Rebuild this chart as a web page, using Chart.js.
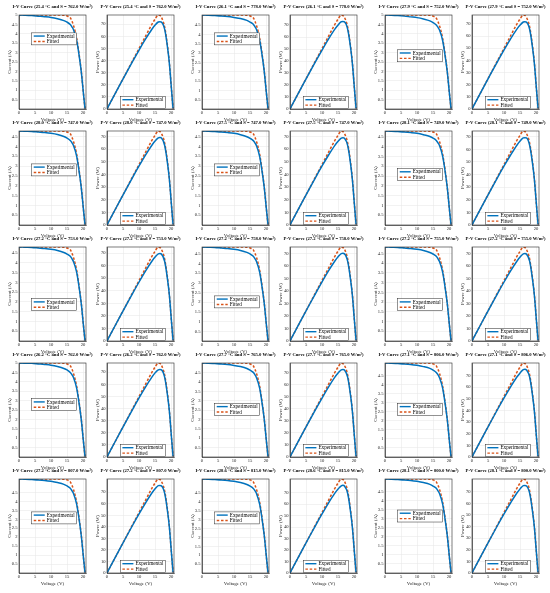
<!DOCTYPE html>
<html>
<head>
<meta charset="utf-8">
<script src="https://cdn.jsdelivr.net/npm/chart.js@4.4.1/dist/chart.umd.min.js"></script>
<style>
  html, body { margin: 0; padding: 0; background: #fff; }
  #wrap { position: relative; width: 550px; height: 593px; overflow: hidden; background: #fff; }
  canvas { position: absolute; }
</style>
</head>
<body>
<div id="wrap"></div>
<script>
// ---------------- DATA ----------------
const voltage = [0, 2, 4, 6, 8, 10, 12, 14, 15, 16, 16.5, 17, 18, 19, 19.5, 20, 20.3, 20.6];
const temperatures = [25.4, 26.1, 27.9, 28.0, 27.5, 28.1, 27.2, 27.2, 27.2, 26.2, 27.7, 27.1, 27.2, 28.6, 28.1];
const irradiances = [762.0, 778.0, 752.0, 747.0, 747.0, 749.0, 753.0, 758.0, 755.0, 762.0, 765.0, 806.0, 807.0, 815.0, 800.0];
const seriesNames = ['Experimental', 'Fitted'];
const xTickValues = [0, 5, 10, 15, 20];

const expCurrent = [
  [5.00, 4.99, 4.97, 4.94, 4.91, 4.87, 4.80, 4.70, 4.62, 4.49, 4.37, 4.22, 3.65, 2.55, 1.87, 1.00, 0.50, 0.02],
  [5.05, 5.04, 5.02, 5.00, 4.97, 4.92, 4.86, 4.76, 4.67, 4.55, 4.42, 4.27, 3.69, 2.58, 1.89, 1.01, 0.51, 0.02],
  [5.00, 4.99, 4.97, 4.94, 4.90, 4.86, 4.79, 4.69, 4.60, 4.47, 4.35, 4.20, 3.63, 2.53, 1.86, 0.99, 0.50, 0.02],
  [4.78, 4.77, 4.76, 4.73, 4.70, 4.66, 4.60, 4.50, 4.42, 4.30, 4.19, 4.04, 3.49, 2.44, 1.79, 0.96, 0.48, 0.02],
  [4.78, 4.77, 4.75, 4.73, 4.70, 4.66, 4.59, 4.49, 4.41, 4.29, 4.18, 4.03, 3.48, 2.43, 1.78, 0.95, 0.48, 0.02],
  [4.80, 4.79, 4.77, 4.75, 4.72, 4.68, 4.61, 4.52, 4.44, 4.32, 4.20, 4.06, 3.50, 2.45, 1.80, 0.96, 0.48, 0.02],
  [4.82, 4.81, 4.80, 4.77, 4.74, 4.70, 4.64, 4.54, 4.46, 4.34, 4.22, 4.07, 3.52, 2.46, 1.81, 0.96, 0.48, 0.02],
  [4.85, 4.84, 4.83, 4.80, 4.77, 4.73, 4.67, 4.57, 4.49, 4.37, 4.25, 4.10, 3.54, 2.47, 1.82, 0.97, 0.49, 0.02],
  [4.83, 4.82, 4.81, 4.78, 4.75, 4.71, 4.65, 4.55, 4.47, 4.35, 4.23, 4.08, 3.53, 2.46, 1.81, 0.97, 0.48, 0.02],
  [5.00, 4.99, 4.98, 4.95, 4.92, 4.88, 4.81, 4.71, 4.63, 4.50, 4.38, 4.23, 3.65, 2.55, 1.88, 1.00, 0.50, 0.02],
  [5.01, 5.00, 4.98, 4.96, 4.93, 4.88, 4.82, 4.72, 4.63, 4.51, 4.39, 4.23, 3.66, 2.56, 1.88, 1.00, 0.50, 0.02],
  [5.20, 5.19, 5.17, 5.15, 5.12, 5.07, 5.00, 4.90, 4.81, 4.68, 4.56, 4.39, 3.80, 2.65, 1.95, 1.04, 0.52, 0.02],
  [5.25, 5.24, 5.22, 5.20, 5.17, 5.12, 5.05, 4.95, 4.86, 4.73, 4.60, 4.44, 3.83, 2.68, 1.97, 1.05, 0.53, 0.02],
  [5.28, 5.27, 5.25, 5.23, 5.20, 5.15, 5.08, 4.97, 4.88, 4.75, 4.63, 4.46, 3.85, 2.69, 1.98, 1.06, 0.53, 0.02],
  [5.22, 5.21, 5.19, 5.17, 5.14, 5.09, 5.02, 4.92, 4.83, 4.70, 4.57, 4.41, 3.81, 2.66, 1.96, 1.04, 0.52, 0.02]
];

const fitCurrent = [
  [5.00, 5.00, 5.00, 5.00, 5.00, 5.00, 5.00, 4.99, 4.95, 4.85, 4.68, 4.45, 3.75, 2.60, 1.90, 1.00, 0.50, 0.02],
  [5.05, 5.05, 5.05, 5.05, 5.05, 5.05, 5.05, 5.04, 5.00, 4.90, 4.72, 4.49, 3.79, 2.63, 1.92, 1.01, 0.51, 0.02],
  [5.00, 5.00, 5.00, 5.00, 5.00, 5.00, 5.00, 4.99, 4.94, 4.83, 4.66, 4.43, 3.74, 2.59, 1.89, 0.99, 0.50, 0.02],
  [4.78, 4.78, 4.78, 4.78, 4.78, 4.78, 4.78, 4.77, 4.73, 4.64, 4.47, 4.25, 3.59, 2.49, 1.82, 0.96, 0.48, 0.02],
  [4.78, 4.78, 4.78, 4.78, 4.78, 4.78, 4.78, 4.77, 4.73, 4.64, 4.47, 4.25, 3.59, 2.49, 1.82, 0.96, 0.48, 0.02],
  [4.80, 4.80, 4.80, 4.80, 4.80, 4.80, 4.80, 4.79, 4.75, 4.66, 4.49, 4.27, 3.60, 2.50, 1.82, 0.96, 0.48, 0.02],
  [4.82, 4.82, 4.82, 4.82, 4.82, 4.82, 4.82, 4.81, 4.77, 4.68, 4.51, 4.29, 3.62, 2.51, 1.83, 0.96, 0.48, 0.02],
  [4.85, 4.85, 4.85, 4.85, 4.85, 4.85, 4.85, 4.84, 4.80, 4.70, 4.53, 4.32, 3.64, 2.52, 1.84, 0.97, 0.49, 0.02],
  [4.83, 4.83, 4.83, 4.83, 4.83, 4.83, 4.83, 4.82, 4.78, 4.69, 4.52, 4.30, 3.62, 2.51, 1.84, 0.97, 0.48, 0.02],
  [5.00, 5.00, 5.00, 5.00, 5.00, 5.00, 5.00, 4.99, 4.95, 4.85, 4.68, 4.45, 3.75, 2.60, 1.90, 1.00, 0.50, 0.02],
  [5.01, 5.01, 5.01, 5.01, 5.01, 5.01, 5.01, 5.00, 4.96, 4.86, 4.68, 4.46, 3.76, 2.61, 1.90, 1.00, 0.50, 0.02],
  [5.20, 5.20, 5.20, 5.20, 5.20, 5.20, 5.20, 5.19, 5.15, 5.04, 4.86, 4.63, 3.90, 2.70, 1.98, 1.04, 0.52, 0.02],
  [5.25, 5.25, 5.25, 5.25, 5.25, 5.25, 5.25, 5.24, 5.20, 5.09, 4.91, 4.67, 3.94, 2.73, 2.00, 1.05, 0.53, 0.02],
  [5.28, 5.28, 5.28, 5.28, 5.28, 5.28, 5.28, 5.27, 5.23, 5.12, 4.94, 4.70, 3.96, 2.75, 2.01, 1.06, 0.53, 0.02],
  [5.22, 5.22, 5.22, 5.22, 5.22, 5.22, 5.22, 5.21, 5.17, 5.06, 4.88, 4.65, 3.92, 2.71, 1.98, 1.04, 0.52, 0.02]
];

// legend vertical placement (fraction of plot height) for the I-V panels
const ivLegendTop = [0.19, 0.19, 0.37, 0.35, 0.35, 0.40, 0.55, 0.52, 0.55, 0.38, 0.43, 0.43, 0.35, 0.35, 0.33];

// ---------------- STYLE ----------------
const BLUE = '#0072BD', ORANGE = '#D95319', INK = '#262626';
const FONT = 'Liberation Serif';
const PLOT_H = 94, PLOT_W = 67;
const PAD_L = 12, PAD_T = 14, PAD_R = 14, PAD_B = 14;
const TITLE_W = 80;

function fmt(v) { return String(Math.round(v * 100) / 100); }
function onStep(v, step) { const q = v / step; return Math.abs(q - Math.round(q)) < 1e-6; }

const framePlugin = {
  id: 'frame',
  afterDraw(chart) {
    const { ctx, chartArea: a } = chart;
    const o = chart.options.plugins.frame;
    ctx.save();
    ctx.strokeStyle = INK; ctx.lineWidth = 0.6;
    ctx.strokeRect(a.left, a.top, a.right - a.left, a.bottom - a.top);
    // title, sized to the reference width
    ctx.font = 'bold 10px "' + FONT + '"';
    const w10 = ctx.measureText(o.title).width;
    const fs = Math.min(5.5, 10 * TITLE_W / w10);
    ctx.font = 'bold ' + fs.toFixed(2) + 'px "' + FONT + '"';
    ctx.fillStyle = '#000';
    ctx.textAlign = 'center'; ctx.textBaseline = 'middle';
    ctx.fillText(o.title, (a.left + a.right) / 2, a.top - 8.5);
    // legend
    ctx.font = '5.2px "' + FONT + '"';
    ctx.textAlign = 'left';
    const tw = Math.max(ctx.measureText(seriesNames[0]).width, ctx.measureText(seriesNames[1]).width);
    const bw = 2 + 11 + 2 + tw + 2, bh = 12;
    const w = a.right - a.left, h = a.bottom - a.top;
    const bx = a.left + o.legendX * w;
    const by = o.legendBottom ? a.bottom - bh - 0.5 : a.top + o.legendY * h;
    ctx.fillStyle = '#fff';
    ctx.fillRect(bx, by, bw, bh);
    ctx.strokeStyle = INK; ctx.lineWidth = 0.5;
    ctx.strokeRect(bx, by, bw, bh);
    const rows = [by + 3.2, by + 8.6];
    [BLUE, ORANGE].forEach((c, k) => {
      ctx.beginPath();
      ctx.strokeStyle = c; ctx.lineWidth = 1.4;
      ctx.setLineDash(k === 1 ? [2.5, 1.8] : []);
      ctx.moveTo(bx + 2, rows[k]); ctx.lineTo(bx + 13, rows[k]);
      ctx.stroke();
      ctx.setLineDash([]);
      ctx.fillStyle = '#000';
      ctx.fillText(seriesNames[k], bx + 15, rows[k] + 0.3);
    });
    ctx.restore();
  }
};

function makeChart(i, kind) {
  const r = Math.floor(i / 3), p = i % 3;
  const plotLeft = kind === 'IV' ? 19 + p * 183 : 107 + p * 182.5;
  const plotTop = 14.5 + r * 116.2;
  const cv = document.createElement('canvas');
  const W = PAD_L + PLOT_W + PAD_R, H = PAD_T + PLOT_H + PAD_B;
  cv.width = W; cv.height = H;
  cv.style.width = W + 'px'; cv.style.height = H + 'px';
  cv.style.left = Math.round(plotLeft - PAD_L) + 'px';
  cv.style.top = Math.round(plotTop - PAD_T) + 'px';
  document.getElementById('wrap').appendChild(cv);

  const ie = expCurrent[i], ifit = fitCurrent[i];
  let dExp, dFit, yMax, yStep, yTitle, title;
  const cond = '(' + temperatures[i].toFixed(1) + ' \u00B0C and S = ' + irradiances[i].toFixed(1) + ' W/m\u00B2)';
  if (kind === 'IV') {
    dExp = voltage.map((v, k) => ({ x: v, y: ie[k] }));
    dFit = voltage.map((v, k) => ({ x: v, y: ifit[k] }));
    yMax = Math.max(...ie, ...ifit);
    yStep = 0.5; yTitle = 'Current (A)';
    title = 'I-V Curve ' + cond;
  } else {
    dExp = voltage.map((v, k) => ({ x: v, y: v * ie[k] }));
    dFit = voltage.map((v, k) => ({ x: v, y: v * ifit[k] }));
    yMax = Math.max(...dExp.map(d => d.y), ...dFit.map(d => d.y));
    yStep = 10; yTitle = 'Power (W)';
    title = 'P-V Curve ' + cond;
  }
  const tickFont = { family: FONT, size: 4.6 };
  const titleFont = { family: FONT, size: 5 };

  new Chart(cv, {
    type: 'line',
    data: {
      datasets: [
        { label: seriesNames[0], data: dExp, borderColor: BLUE, borderWidth: 1.5, pointRadius: 0, cubicInterpolationMode: 'monotone', fill: false },
        { label: seriesNames[1], data: dFit, borderColor: ORANGE, borderWidth: 1.5, borderDash: [2.5, 1.8], pointRadius: 0, cubicInterpolationMode: 'monotone', fill: false }
      ]
    },
    options: {
      responsive: false, animation: false, devicePixelRatio: 1,
      layout: { padding: { top: PAD_T, right: PAD_R, left: 0, bottom: 0 } },
      plugins: {
        legend: { display: false }, tooltip: { enabled: false },
        frame: { title, legendX: kind === 'IV' ? 0.19 : 0.2, legendY: kind === 'IV' ? ivLegendTop[i] : 0, legendBottom: kind !== 'IV' }
      },
      scales: {
        x: {
          type: 'linear', min: 0, max: 20.9,
          afterBuildTicks(s) { s.ticks = xTickValues.map(v => ({ value: v })); },
          afterFit(s) { s.height = PAD_B; },
          ticks: { font: tickFont, color: INK, padding: 1.5, maxRotation: 0, autoSkip: false, callback: v => fmt(v) },
          grid: { color: '#e4e4e4', lineWidth: 0.5, drawTicks: false },
          border: { color: INK, width: 0.6 },
          title: { display: true, text: 'Voltage (V)', font: titleFont, color: INK, padding: { top: 0, bottom: 0 } }
        },
        y: {
          type: 'linear', min: 0, max: yMax,
          afterBuildTicks(s) { s.ticks = s.ticks.filter(t => onStep(t.value, yStep)); },
          afterFit(s) { s.width = PAD_L; },
          ticks: { stepSize: yStep, font: tickFont, color: INK, padding: 1.5, autoSkip: false,
                   callback: v => (kind === 'IV' && v === 0) ? '' : fmt(v) },
          grid: { color: '#e4e4e4', lineWidth: 0.5, drawTicks: false },
          border: { color: INK, width: 0.6 },
          title: { display: true, text: yTitle, font: titleFont, color: INK, padding: { top: 0, bottom: 0 } }
        }
      }
    },
    plugins: [framePlugin]
  });
}

for (let i = 0; i < 15; i++) { makeChart(i, 'IV'); makeChart(i, 'PV'); }
</script>
</body>
</html>
